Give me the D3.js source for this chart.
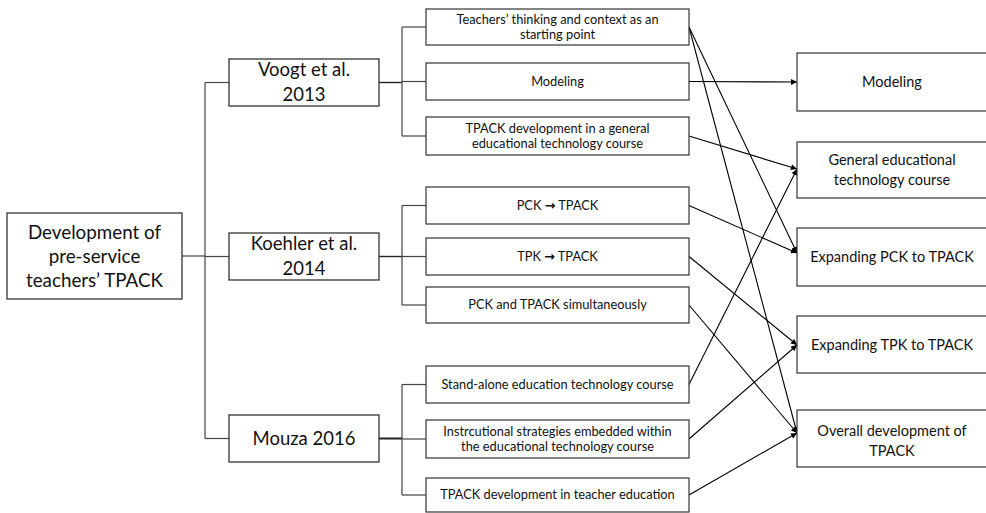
<!DOCTYPE html>
<html>
<head>
<meta charset="utf-8">
<script src="https://cdn.jsdelivr.net/npm/d3@7"></script>
<style>
  html, body { margin: 0; padding: 0; background: #fff; }
  svg { display: block; }
  text { font-family: Lato, "Open Sans", sans-serif; fill: #111; }
</style>
</head>
<body>
<svg id="chart" width="986" height="513"></svg>
<script>
// ---------- data ----------
const rootLabel = "Development of\npre-service\nteachers’ TPACK";
const studies = ["Voogt et al.\n2013", "Koehler et al.\n2014", "Mouza 2016"];
const approaches = [
  "Teachers’ thinking and context as an\nstarting point",
  "Modeling",
  "TPACK development in a general\neducational technology course",
  "PCK → TPACK",
  "TPK → TPACK",
  "PCK and TPACK simultaneously",
  "Stand-alone education technology course",
  "Instrcutional strategies embedded within\nthe educational technology course",
  "TPACK development in teacher education"
];
const approachStudy = [0, 0, 0, 1, 1, 1, 2, 2, 2];
const outcomes = [
  "Modeling",
  "General educational\ntechnology course",
  "Expanding PCK to TPACK",
  "Expanding TPK to TPACK",
  "Overall development of\nTPACK"
];
// links: [approach index, outcome index]
const links = [[0, 2], [0, 4], [1, 0], [2, 1], [3, 2], [4, 3], [5, 4], [6, 1], [7, 3], [8, 4]];

// ---------- layout ----------
const svg = d3.select("#chart");
const approachY = d3.scaleOrdinal().domain(d3.range(approaches.length))
  .range([27, 81.5, 136, 205.5, 256.5, 305, 384.5, 439, 495]);
const approachH = d3.scaleOrdinal().domain(d3.range(approaches.length))
  .range([36, 37, 38, 37, 37, 36, 37, 38, 34]);
const studyY = d3.scaleOrdinal().domain(d3.range(studies.length)).range([82.5, 256.5, 438.5]);
const outcomeY = d3.scaleOrdinal().domain(d3.range(outcomes.length)).range([82, 170, 257, 344.5, 438.5]);
const outcomeH = d3.scaleOrdinal().domain(d3.range(outcomes.length)).range([58, 56, 58, 57, 57]);
const outcomeTip = d3.scaleOrdinal().domain(d3.range(outcomes.length)).range([82, 169, 253, 345, 433]);

const col = { rootX0: 7, rootX1: 182, trunkX: 205, studyX0: 229, studyX1: 379, branchX: 402,
              apX0: 426, apX1: 689, outX0: 797, outX1: 990 };
const rootBox = { y0: 213, y1: 299 };

const boxStroke = "#333";
const lineStroke = "#444";

// arrow marker
svg.append("defs").append("marker")
  .attr("id", "arrow").attr("viewBox", "0 0 10 10")
  .attr("refX", 10).attr("refY", 5)
  .attr("markerWidth", 7).attr("markerHeight", 6)
  .attr("markerUnits", "userSpaceOnUse")
  .attr("orient", "auto")
  .append("path").attr("d", "M0,0 L10,5 L0,10 z").attr("fill", "#000");

function addText(g, label, cx, cy, size, lh) {
  const lines = label.split("\n");
  const t = g.append("text").attr("text-anchor", "middle").attr("font-size", size);
  lines.forEach((ln, i) => {
    const ts = t.append("tspan").attr("x", cx)
      .attr("y", cy + (i - (lines.length - 1) / 2) * lh)
      .attr("dy", "0.35em");
    const parts = ln.split("→");
    parts.forEach((p, k) => {
      ts.append("tspan").text(p);
      if (k < parts.length - 1) {
        ts.append("tspan").attr("font-weight", "bold").attr("font-family", "DejaVu Sans").text("→");
      }
    });
  });
}

const treeG = svg.append("g").attr("fill", "none").attr("stroke", lineStroke).attr("stroke-width", 1.2);
const rootCy = (rootBox.y0 + rootBox.y1) / 2;
// root connector + trunk
treeG.append("line").attr("x1", col.rootX1).attr("x2", col.trunkX).attr("y1", rootCy).attr("y2", rootCy);
treeG.append("line").attr("x1", col.trunkX).attr("x2", col.trunkX)
  .attr("y1", studyY(0)).attr("y2", studyY(studies.length - 1));
studies.forEach((s, i) => {
  treeG.append("line").attr("x1", col.trunkX).attr("x2", col.studyX0).attr("y1", studyY(i)).attr("y2", studyY(i));
  treeG.append("line").attr("x1", col.studyX1).attr("x2", col.branchX).attr("y1", studyY(i)).attr("y2", studyY(i))
    .attr("stroke-width", i === 2 ? 2 : 1.4).attr("stroke", "#222");
  const kids = d3.range(approaches.length).filter(j => approachStudy[j] === i);
  treeG.append("line").attr("x1", col.branchX).attr("x2", col.branchX)
    .attr("y1", approachY(kids[0])).attr("y2", approachY(kids[kids.length - 1]));
  kids.forEach(j => {
    treeG.append("line").attr("x1", col.branchX).attr("x2", col.apX0).attr("y1", approachY(j)).attr("y2", approachY(j));
  });
});

// arrows
const arrowG = svg.append("g");
arrowG.selectAll("line").data(links).join("line")
  .attr("x1", d => col.apX1).attr("y1", d => approachY(d[0]))
  .attr("x2", d => col.outX0).attr("y2", d => outcomeTip(d[1]))
  .attr("stroke", "#000").attr("stroke-width", 1.1)
  .attr("marker-end", "url(#arrow)");

// boxes
const boxG = svg.append("g");
boxG.append("rect").attr("x", col.rootX0).attr("y", rootBox.y0)
  .attr("width", col.rootX1 - col.rootX0).attr("height", rootBox.y1 - rootBox.y0)
  .attr("fill", "#fff").attr("stroke", boxStroke).attr("stroke-width", 1.3);
addText(boxG, rootLabel, (col.rootX0 + col.rootX1) / 2, rootCy, 18.8, 24);

studies.forEach((s, i) => {
  boxG.append("rect").attr("x", col.studyX0).attr("y", studyY(i) - 23.5)
    .attr("width", col.studyX1 - col.studyX0).attr("height", 47)
    .attr("fill", "#fff").attr("stroke", boxStroke).attr("stroke-width", 1.3);
  addText(boxG, s, (col.studyX0 + col.studyX1) / 2, studyY(i), 18.5, 25);
});

approaches.forEach((a, i) => {
  const h = approachH(i);
  boxG.append("rect").attr("x", col.apX0).attr("y", approachY(i) - h / 2)
    .attr("width", col.apX1 - col.apX0).attr("height", h)
    .attr("fill", "#fff").attr("stroke", boxStroke).attr("stroke-width", 1.2);
  addText(boxG, a, (col.apX0 + col.apX1) / 2, approachY(i), 12.8, 15);
});

outcomes.forEach((o, i) => {
  const h = outcomeH(i);
  boxG.append("rect").attr("x", col.outX0).attr("y", outcomeY(i) - h / 2)
    .attr("width", col.outX1 - col.outX0).attr("height", h)
    .attr("fill", "#fff").attr("stroke", boxStroke).attr("stroke-width", 1.2);
  addText(boxG, o, 892, outcomeY(i) + (i === 4 ? 2.5 : 0), 14.5, 19.5);
});
</script>
</body>
</html>
